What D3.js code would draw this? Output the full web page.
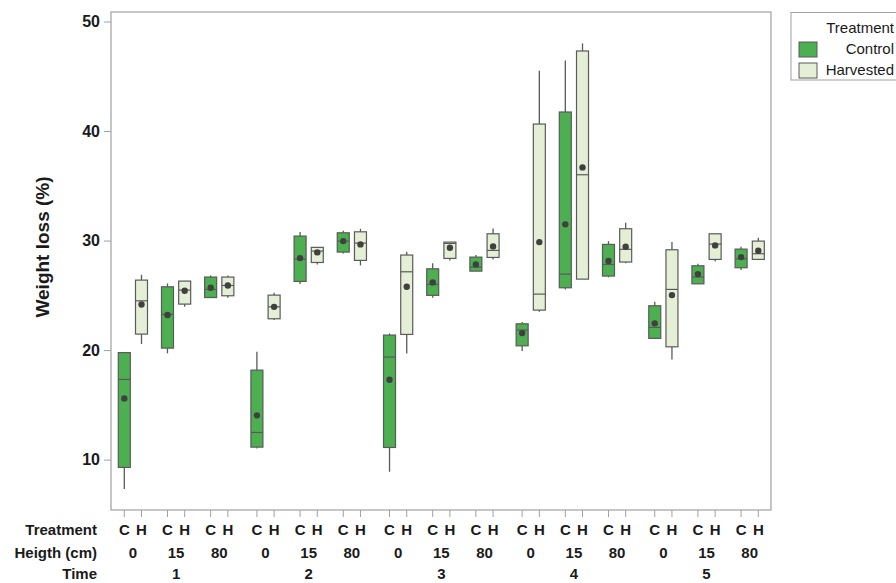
<!DOCTYPE html>
<html><head><meta charset="utf-8">
<script src="https://cdn.jsdelivr.net/npm/d3@7"></script>
<style>body{margin:0;background:#fff;font-family:"Liberation Sans",Arial,sans-serif;}</style>
</head><body><svg id="c" width="896" height="583"></svg>
<script>
const times = ["1","2","3","4","5"];
const heights = ["0","15","80"];
const treatments = ["Control","Harvested"];
const trtCodes = ["C","H"];
// order: time1 h0,h15,h80, time2 ..., per treatment
const ctrlLow  = [7.31,19.7,24.8, 11.02,26.03,28.83, 8.89,24.78,27.21, 19.91,25.54,26.64, 21.07,26.05,27.31];
const ctrlQ1   = [9.29,20.18,24.8, 11.14,26.27,28.95, 11.11,25.0,27.21, 20.39,25.69,26.76, 21.07,26.05,27.52];
const ctrlMed  = [17.32,23.26,25.54, 12.48,28.31,29.95, 19.36,26.0,27.58, 21.83,26.94,27.82, 22.07,26.67,28.34];
const ctrlQ3   = [19.77,25.78,26.67, 18.17,30.41,30.71, 21.37,27.42,28.49, 22.4,41.74,29.65, 24.05,27.7,29.22];
const ctrlHigh = [19.77,26.09,26.82, 19.85,30.78,30.9, 21.52,27.92,28.68, 22.56,46.45,29.95, 24.41,27.88,29.43];
const ctrlMean = [15.59,23.2,25.69, 14.04,28.4,29.95, 17.29,26.18,27.82, 21.55,31.48,28.13, 22.44,26.94,28.49];
const harvLow  = [20.55,23.95,24.78, 22.74,27.82,27.73, 19.7,28.19,28.28, 23.5,26.48,27.92, 19.15,28.1,28.28];
const harvQ1   = [21.46,24.2,24.96, 22.86,28.0,28.19, 21.43,28.37,28.46, 23.65,26.48,28.04, 20.3,28.28,28.28];
const harvMed  = [24.5,25.48,25.9, 23.95,29.04,29.77, 27.15,29.74,29.1, 25.11,36.01,29.2, 25.54,29.68,28.8];
const harvQ3   = [26.39,26.3,26.67, 25.02,29.38,30.8, 28.68,29.86,30.62, 40.64,47.31,31.08, 29.16,30.62,29.95];
const harvHigh = [26.88,26.3,26.82, 25.24,29.38,31.08, 28.98,29.86,31.11, 45.51,48.0,31.63, 29.86,30.62,30.26];
const harvMean = [24.17,25.42,25.9, 23.95,28.92,29.65, 25.78,29.34,29.47, 29.86,36.68,29.43, 25.02,29.56,29.07];
const yTicks = [10,20,30,40,50];

const colors = {Control:"#4caf50", Harvested:"#e4efd6"};
const stroke = "#5a5a5a";

const boxes = [];
times.forEach((t,ti)=>heights.forEach((h,hi)=>{
  const k = ti*3+hi;
  boxes.push({ti,hi,tr:0,time:t,height:h,lo:ctrlLow[k],q1:ctrlQ1[k],med:ctrlMed[k],q3:ctrlQ3[k],hi2:ctrlHigh[k],mean:ctrlMean[k]});
  boxes.push({ti,hi,tr:1,time:t,height:h,lo:harvLow[k],q1:harvQ1[k],med:harvMed[k],q3:harvQ3[k],hi2:harvHigh[k],mean:harvMean[k]});
}));

const svg = d3.select("#c");
const L=111, R=771, T=12, B=510;
const y = d3.scaleLinear().domain([5.4,50.87]).range([B,T]);
// slot units: treatment 1, height 2.51, time 7.71
const slot = d => d.ti*7.71 + d.hi*2.51 + d.tr;
const x = d3.scaleLinear().domain([0, 4*7.71+2*2.51+1]).range([124.3,758.3]);
const bw = 12;

// frame
svg.append("rect").attr("x",L).attr("y",T).attr("width",R-L).attr("height",B-T)
  .attr("fill","none").attr("stroke","#a0a0a0").attr("stroke-width",1.2);

// y axis
const ya = svg.append("g").attr("transform",`translate(${L},0)`)
  .call(d3.axisLeft(y).tickValues(yTicks).tickSize(7).tickPadding(4));
ya.select(".domain").remove();
ya.selectAll("line").attr("stroke","#a0a0a0");
ya.selectAll("text").attr("font-size",16).attr("font-weight","bold").attr("fill","#1a1a1a")
  .attr("font-family","Liberation Sans, Arial, sans-serif");

svg.append("text").attr("transform","translate(49,247) rotate(-90)").attr("text-anchor","middle")
  .attr("font-size",19).attr("font-weight","bold").attr("fill","#1a1a1a").text("Weight loss (%)");

// bottom ticks
svg.append("g").selectAll("line").data(boxes).join("line")
  .attr("x1",d=>x(slot(d))).attr("x2",d=>x(slot(d))).attr("y1",B).attr("y2",B+7)
  .attr("stroke","#a0a0a0");

const lbl = {"font-size":15,"font-weight":"bold","fill":"#1a1a1a"};
function txt(g){ Object.entries(lbl).forEach(([k,v])=>g.attr(k,v)); return g; }
txt(svg.append("g").selectAll("text").data(boxes).join("text")
  .attr("x",d=>x(slot(d))).attr("y",535).attr("text-anchor","middle").text(d=>trtCodes[d.tr]));
const pairs = boxes.filter(d=>d.tr===0);
txt(svg.append("g").selectAll("text").data(pairs).join("text")
  .attr("x",d=>x(slot(d)+0.5)).attr("y",558).attr("text-anchor","middle").text(d=>d.height));
const tgroups = pairs.filter(d=>d.hi===1);
txt(svg.append("g").selectAll("text").data(tgroups).join("text")
  .attr("x",d=>x(slot(d)+0.5)).attr("y",579).attr("text-anchor","middle").text(d=>d.time));
txt(svg.append("text").attr("x",97).attr("y",535).attr("text-anchor","end").text("Treatment"));
txt(svg.append("text").attr("x",97).attr("y",558).attr("text-anchor","end").text("Heigth (cm)"));
txt(svg.append("text").attr("x",97).attr("y",579).attr("text-anchor","end").text("Time"));

// boxes
const g = svg.append("g");
const bg = g.selectAll("g").data(boxes).join("g");
bg.append("line").attr("x1",d=>x(slot(d))).attr("x2",d=>x(slot(d)))
  .attr("y1",d=>y(d.hi2)).attr("y2",d=>y(d.q3)).attr("stroke",stroke).attr("stroke-width",1.3);
bg.append("line").attr("x1",d=>x(slot(d))).attr("x2",d=>x(slot(d)))
  .attr("y1",d=>y(d.q1)).attr("y2",d=>y(d.lo)).attr("stroke",stroke).attr("stroke-width",1.3);
bg.append("rect").attr("x",d=>x(slot(d))-bw/2).attr("width",bw)
  .attr("y",d=>y(d.q3)).attr("height",d=>y(d.q1)-y(d.q3))
  .attr("fill",d=>colors[treatments[d.tr]]).attr("stroke",stroke).attr("stroke-width",1.2);
bg.append("line").attr("x1",d=>x(slot(d))-bw/2).attr("x2",d=>x(slot(d))+bw/2)
  .attr("y1",d=>y(d.med)).attr("y2",d=>y(d.med)).attr("stroke",stroke).attr("stroke-width",1.2);
bg.append("circle").attr("cx",d=>x(slot(d))).attr("cy",d=>y(d.mean)).attr("r",3.2).attr("fill","#404040");

// legend
const lg = svg.append("g");
lg.append("rect").attr("x",791).attr("y",12.5).attr("width",110).attr("height",67.5)
  .attr("fill","#fff").attr("stroke","#a0a0a0");
lg.append("text").attr("x",894).attr("y",33).attr("text-anchor","end").attr("font-size",15).attr("fill","#1a1a1a").text("Treatment");
treatments.forEach((t,i)=>{
  lg.append("rect").attr("x",799).attr("y",42+i*21).attr("width",18).attr("height",15)
    .attr("fill",colors[t]).attr("stroke",stroke);
  lg.append("text").attr("x",894).attr("y",54+i*20.5).attr("text-anchor","end").attr("font-size",15)
    .attr("fill","#1a1a1a").text(t);
});
</script></body></html>
